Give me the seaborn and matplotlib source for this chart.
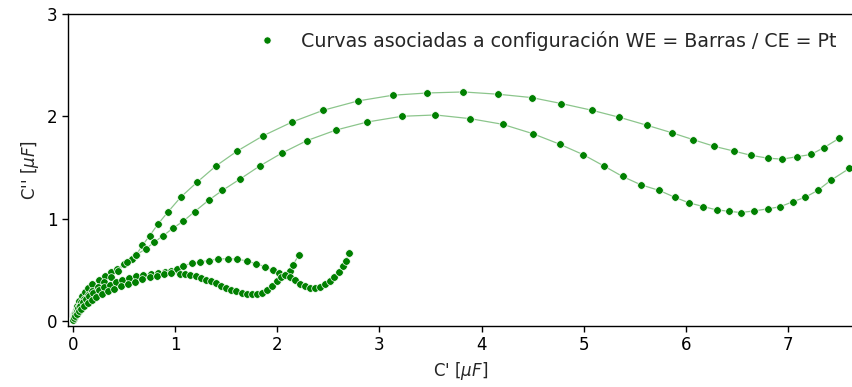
import numpy as np
import pandas as pd
import matplotlib
matplotlib.use("Agg")
import matplotlib.pyplot as plt
from matplotlib.lines import Line2D
import seaborn as sns

# Nyquist-type capacitance curves: C' (real) vs C'' (imaginary), in microfarads
curve_a_x = [0.005, 0.012, 0.025, 0.04, 0.06, 0.085, 0.115, 0.15, 0.19, 0.25, 0.313, 0.372,
             0.428, 0.50, 0.578, 0.62, 0.679, 0.751, 0.833, 0.933, 1.058, 1.215, 1.40, 1.61,
             1.86, 2.145, 2.45, 2.79, 3.13, 3.47, 3.82, 4.16, 4.49, 4.78, 5.08, 5.35, 5.62,
             5.86, 6.07, 6.28, 6.47, 6.64, 6.80, 6.94, 7.09, 7.225, 7.35, 7.50]
curve_a_y = [0.03, 0.07, 0.11, 0.15, 0.19, 0.24, 0.28, 0.32, 0.36, 0.40, 0.441, 0.477,
             0.507, 0.556, 0.605, 0.647, 0.738, 0.833, 0.948, 1.069, 1.213, 1.356, 1.515, 1.662,
             1.809, 1.944, 2.059, 2.150, 2.206, 2.228, 2.238, 2.216, 2.183, 2.125, 2.059, 1.990, 1.912,
             1.840, 1.772, 1.706, 1.660, 1.618, 1.591, 1.581, 1.605, 1.627, 1.693, 1.784]

curve_b_x = [0.004, 0.01, 0.02, 0.035, 0.055, 0.08, 0.11, 0.145, 0.19, 0.24, 0.30, 0.37,
             0.44, 0.526, 0.617, 0.715, 0.793, 0.884, 0.975, 1.080, 1.192, 1.327, 1.462, 1.636,
             1.829, 2.044, 2.289, 2.576, 2.880, 3.219, 3.548, 3.888, 4.205, 4.502, 4.763, 4.995,
             5.20, 5.38, 5.56, 5.74, 5.89, 6.03, 6.17, 6.30, 6.42, 6.535, 6.67, 6.80, 6.92,
             7.045, 7.17, 7.29, 7.42, 7.60]
curve_b_y = [0.02, 0.05, 0.08, 0.11, 0.145, 0.18, 0.215, 0.25, 0.29, 0.33, 0.38, 0.43,
             0.49, 0.572, 0.644, 0.706, 0.768, 0.833, 0.904, 0.975, 1.069, 1.179, 1.275, 1.387,
             1.515, 1.640, 1.762, 1.866, 1.944, 2.000, 2.013, 1.977, 1.922, 1.830, 1.728, 1.625,
             1.513, 1.412, 1.330, 1.275, 1.209, 1.154, 1.118, 1.085, 1.072, 1.059, 1.075, 1.095, 1.115,
             1.164, 1.209, 1.275, 1.375, 1.490]

curve_c_x = [0.004, 0.01, 0.02, 0.035, 0.05, 0.07, 0.095, 0.125, 0.16, 0.2, 0.25, 0.3,
             0.36, 0.42, 0.48, 0.55, 0.62, 0.69, 0.76, 0.83, 0.90, 0.96, 1.015, 1.08, 1.163,
             1.244, 1.33, 1.423, 1.515, 1.61, 1.70, 1.79, 1.877, 1.956, 2.02, 2.076, 2.12,
             2.155, 2.21]
curve_c_y = [0.015, 0.04, 0.07, 0.10, 0.125, 0.15, 0.18, 0.21, 0.24, 0.27, 0.30, 0.33,
             0.355, 0.38, 0.40, 0.42, 0.435, 0.45, 0.46, 0.47, 0.48, 0.49, 0.51, 0.54, 0.562,
             0.578, 0.59, 0.605, 0.608, 0.605, 0.585, 0.559, 0.531, 0.495, 0.466, 0.445, 0.49,
             0.55, 0.643]

curve_d_x = [0.003, 0.01, 0.02, 0.035, 0.055, 0.08, 0.11, 0.145, 0.185, 0.23, 0.28, 0.34,
             0.40, 0.47, 0.54, 0.61, 0.68, 0.75, 0.82, 0.89, 0.96, 1.05, 1.10, 1.15, 1.20,
             1.25, 1.30, 1.35, 1.40, 1.45, 1.50, 1.55, 1.60, 1.65, 1.70, 1.75, 1.80, 1.85,
             1.90, 1.95, 2.00, 2.04, 2.08, 2.12, 2.17, 2.22, 2.27, 2.32, 2.37, 2.42, 2.47,
             2.52, 2.56, 2.60, 2.64, 2.67, 2.70]
curve_d_y = [0.005, 0.025, 0.045, 0.07, 0.095, 0.12, 0.15, 0.175, 0.205, 0.235, 0.26, 0.29,
             0.315, 0.34, 0.365, 0.385, 0.405, 0.425, 0.44, 0.455, 0.465, 0.462, 0.455, 0.446, 0.435,
             0.421, 0.404, 0.386, 0.366, 0.345, 0.325, 0.305, 0.288, 0.274, 0.264, 0.259, 0.262, 0.274,
             0.300, 0.338, 0.388, 0.428, 0.446, 0.425, 0.395, 0.365, 0.340, 0.325, 0.322, 0.333, 0.357,
             0.392, 0.432, 0.480, 0.535, 0.590, 0.660]

legend_label = "Curvas asociadas a configuración WE = Barras / CE = Pt"

frames = []
for name, xs, ys in [("a", curve_a_x, curve_a_y), ("b", curve_b_x, curve_b_y),
                     ("c", curve_c_x, curve_c_y), ("d", curve_d_x, curve_d_y)]:
    frames.append(pd.DataFrame({"cp": xs, "cpp": ys, "curva": name,
                                "orden": np.arange(len(xs))}))
df = pd.concat(frames, ignore_index=True)

sns.set_style("ticks")
plt.rcParams["font.family"] = ["DejaVu Sans"]
plt.rcParams["font.size"] = 12

fig = plt.figure(figsize=(8.52, 3.87), dpi=100)
ax = fig.add_axes([68 / 852, 61 / 387, (854 - 68) / 852, 312 / 387])

# thin connecting lines for each curve
sns.lineplot(data=df, x="cp", y="cpp", units="curva", estimator=None, sort=False,
             color="green", alpha=0.45, linewidth=0.9, ax=ax, legend=False)
# measured points
sns.scatterplot(data=df, x="cp", y="cpp", color="green", s=30, edgecolor="white",
                linewidth=0.5, ax=ax, legend=False, zorder=3)

ax.set_xlim(-0.049, 7.646)
ax.set_ylim(-0.05, 3)
ax.set_xticks(range(0, 8))
ax.set_yticks(range(0, 4))
ax.tick_params(labelsize=12, length=4, width=1, colors="black")
ax.set_xlabel("C' [$\\mu F$]", fontsize=12)
ax.set_ylabel("C'' [$\\mu F$]", fontsize=12)
for sp in ax.spines.values():
    sp.set_color("black")
    sp.set_linewidth(1.0)

handle = Line2D([], [], linestyle="none", marker="o", markersize=5.2,
                markerfacecolor="green", markeredgecolor="white", markeredgewidth=0.5)
ax.legend([handle], [legend_label], loc="upper right", frameon=False, fontsize=13.7,
          handletextpad=0.8, borderaxespad=0.5)

fig.savefig("out.png", dpi=100)
